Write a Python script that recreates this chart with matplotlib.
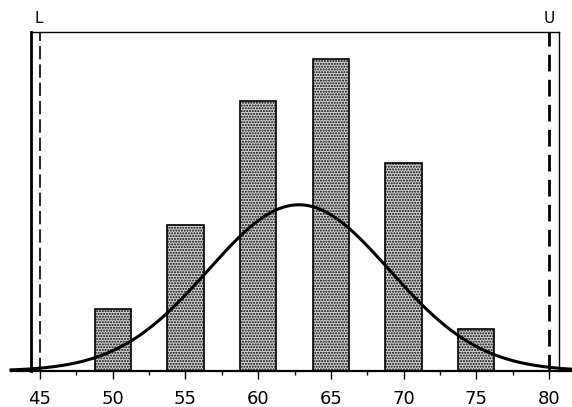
import numpy as np
import matplotlib
matplotlib.use("Agg")
import matplotlib.pyplot as plt

# Data
bin_centers = [50, 55, 60, 65, 70, 75]
counts = [3, 7, 13, 15, 10, 2]
bin_width = 2.5
lsl, usl = 45, 80
tick_values = [45, 50, 55, 60, 65, 70, 75, 80]
tick_labels = ["45", "50", "55", "60", "65", "70", "75", "80"]

# fitted normal curve from the histogram data
centers = np.array(bin_centers, float)
cnt = np.array(counts, float)
n = cnt.sum()
mu = (centers * cnt).sum() / n
sigma = np.sqrt(((centers - mu) ** 2 * cnt).sum() / (n - 1))

W, H = 572, 407
fig = plt.figure(figsize=(W / 100, H / 100), dpi=100)

px = 509 / 35.0  # pixels per unit
def xv(p):
    return 45 + (p - 40) / px

x0, x1 = xv(11), xv(572)
ax = fig.add_axes([11 / W, 1 - 371 / H, (572 - 11) / W, (371 - 32) / H])
ax.set_xlim(x0, x1)
ax.set_ylim(0, 339 / 20.8)

for s in ["top", "left", "right"]:
    ax.spines[s].set_visible(False)
ax.spines["bottom"].set_linewidth(1.6)
ax.set_yticks([])
ax.set_xticks(tick_values)
ax.set_xticklabels(tick_labels)
ax.set_xticks([v + 2.5 for v in tick_values[:-1]], minor=True)
ax.tick_params(axis="x", which="major", direction="out", length=6, width=1,
               labelsize=13, pad=8)
ax.tick_params(axis="x", which="minor", direction="out", length=3, width=1)

plt.rcParams["hatch.linewidth"] = 1.0
ax.bar(bin_centers, counts, width=bin_width, facecolor="#d4d4d4",
       edgecolor="black", linewidth=1.2, hatch="......", zorder=2)

xs = np.linspace(x0, x1, 400)
ys = n * bin_width * np.exp(-0.5 * ((xs - mu) / sigma) ** 2) / (sigma * np.sqrt(2 * np.pi))
ax.plot(xs, ys, color="black", lw=2.2, zorder=3, clip_on=False)

# box
bl, br = xv(31), xv(559)
top = ax.get_ylim()[1]
ax.plot([bl, bl], [0, top], color="black", lw=2.0, clip_on=False, zorder=4)
ax.plot([bl, br], [top, top], color="black", lw=1.0, clip_on=False, zorder=4)
ax.plot([br, br], [0, top], color="black", lw=1.0, clip_on=False, zorder=4)

# spec limits
ax.plot([lsl, lsl], [0, top], color="black", lw=1.2, ls=(0, (8, 3)), zorder=4, clip_on=False)
ax.plot([usl, usl], [0, top], color="black", lw=2.0, ls=(0, (6, 3)), zorder=4, clip_on=False)
ax.text(lsl - 0.1, top + 0.3, "L", ha="center", va="bottom", fontsize=11)
ax.text(usl, top + 0.3, "U", ha="center", va="bottom", fontsize=11)

fig.savefig("out.png", dpi=100)
